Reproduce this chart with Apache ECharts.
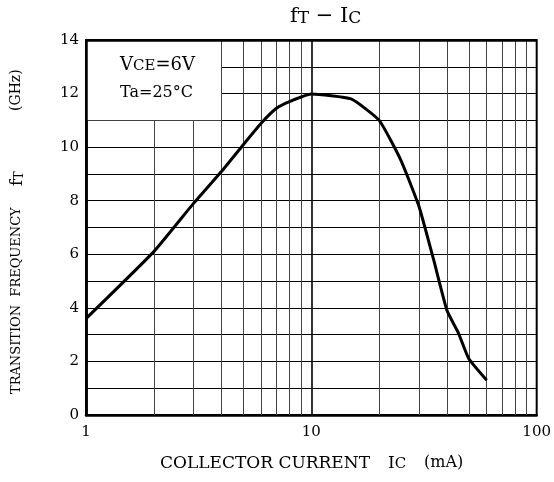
<!DOCTYPE html>
<html>
<head>
<meta charset="utf-8">
<script src="https://cdn.jsdelivr.net/npm/echarts@6/dist/echarts.min.js"></script>
<style>
html,body{margin:0;padding:0;background:#fff;}
#chart{width:554px;height:482px;}
</style>
</head>
<body>
<div id="chart"></div>
<script>
// Data
const collectorCurrent = [1, 2, 3, 4, 5, 6, 7, 8, 10, 15, 20, 25, 30, 35, 40, 45, 50, 60]; // mA
const transitionFreq   = [3.6, 6.1, 7.9, 9.1, 10.1, 10.9, 11.45, 11.7, 11.98, 11.8, 11.0, 9.5, 7.8, 5.75, 3.9, 3.05, 2.1, 1.3]; // GHz
const minorGridX = [2, 3, 4, 5, 6, 7, 8, 9, 20, 30, 40, 50, 60, 70, 80, 90];
const majorGridX = [10];
const yTicks = [0, 2, 4, 6, 8, 10, 12, 14];
const noteBox = { xFrom: 1, xTo: 4, yFrom: 11, yTo: 14 };

const SERIF = '"DejaVu Serif", "Liberation Serif", serif';
const chart = echarts.init(document.getElementById('chart'));

const gridLines = [];
minorGridX.forEach(v => {
  const yTop = (v > noteBox.xFrom && v < noteBox.xTo) ? noteBox.yFrom : 14;
  gridLines.push([{ coord: [v, 0], lineStyle: { color: '#444', width: 1, type: 'solid' } }, { coord: [v, yTop] }]);
});
majorGridX.forEach(v => {
  gridLines.push([{ coord: [v, 0], lineStyle: { color: '#000', width: 1.6, type: 'solid' } }, { coord: [v, 14] }]);
});
// frame edges over the white note box
const frameLines = [
  [{ coord: [1, 0] }, { coord: [1, 14] }],
  [{ coord: [1, 14] }, { coord: [100, 14] }]
];

const sub = (size) => ({ fontFamily: SERIF, fontSize: size, fill: '#000', verticalAlign: 'bottom', lineHeight: size + 1 });
const main = (size) => ({ fontFamily: SERIF, fontSize: size, fill: '#000', verticalAlign: 'bottom', lineHeight: size + 6 });

chart.setOption({
  animation: false,
  grid: { left: 86, top: 40, right: 15, bottom: 67, show: true, borderColor: '#000', borderWidth: 2, backgroundColor: 'transparent' },
  xAxis: {
    type: 'log', logBase: 10, min: 1, max: 100,
    axisLine: { show: true, lineStyle: { color: '#000', width: 2.5 } },
    axisTick: { show: false },
    splitLine: { show: false },
    axisLabel: { color: '#000', fontFamily: SERIF, fontSize: 15, margin: 10 }
  },
  yAxis: {
    type: 'value', min: 0, max: 14, interval: 1,
    axisLine: { show: true, lineStyle: { color: '#000', width: 2.5 } },
    axisTick: { show: false },
    splitLine: { show: true, lineStyle: { color: '#000', width: 1.2 } },
    axisLabel: {
      color: '#000', fontFamily: SERIF, fontSize: 15, margin: 7,
      formatter: v => (yTicks.indexOf(v) >= 0 ? String(v) : '')
    }
  },
  series: [
    {
      type: 'line', data: [], silent: true, z: 1,
      markLine: { silent: true, symbol: 'none', label: { show: false }, animation: false, data: gridLines },
      markArea: {
        silent: true, itemStyle: { color: '#fff' }, label: { show: false },
        data: [[{ coord: [noteBox.xFrom, noteBox.yTo] }, { coord: [noteBox.xTo, noteBox.yFrom] }]]
      }
    },
    {
      type: 'line', z: 5,
      data: collectorCurrent.map((x, i) => [x, transitionFreq[i]]),
      symbol: 'none', smooth: 0.15,
      lineStyle: { color: '#000', width: 3 },
      markLine: {
        silent: true, symbol: 'none', label: { show: false }, animation: false,
        lineStyle: { color: '#000', width: 2.5, type: 'solid' },
        data: frameLines
      }
    }
  ],
  graphic: [
    {
      type: 'text', left: 290, top: 6, z: 100,
      style: { text: '{m|f}{s|T}{m| − I}{s|C}', rich: { m: main(21), s: sub(17) } }
    },
    {
      type: 'text', left: 120, top: 56, z: 100,
      style: { text: '{m|V}{s|CE}{m|=6V}', rich: { m: main(18), s: sub(15) } }
    },
    {
      type: 'text', left: 120, top: 85, z: 100,
      style: { text: 'Ta=25°C', fontFamily: SERIF, fontSize: 16, fill: '#000' }
    },
    // x-axis title
    {
      type: 'text', left: 160, top: 455, z: 100,
      style: { text: 'COLLECTOR CURRENT', fontFamily: SERIF, fontSize: 17, fill: '#000' }
    },
    {
      type: 'text', left: 388, top: 455, z: 100,
      style: { text: '{m|I}{s|C}', rich: { m: main(17), s: sub(15) } }
    },
    {
      type: 'text', left: 424, top: 455, z: 100,
      style: { text: '(mA)', fontFamily: SERIF, fontSize: 16, fill: '#000' }
    },
    // y-axis title (rotated, reads bottom-to-top)
    {
      type: 'text', x: 10, y: 394, rotation: Math.PI / 2, z: 100,
      style: { text: 'TRANSITION  FREQUENCY', fontFamily: SERIF, fontSize: 13, fill: '#000' }
    },
    {
      type: 'text', x: 4, y: 186, rotation: Math.PI / 2, z: 100,
      style: { text: '{m|f}{s|T}', rich: { m: main(16), s: sub(13) } }
    },
    {
      type: 'text', x: 9, y: 111, rotation: Math.PI / 2, z: 100,
      style: { text: '(GHz)', fontFamily: SERIF, fontSize: 14, fill: '#000' }
    }
  ]
});
</script>
</body>
</html>
